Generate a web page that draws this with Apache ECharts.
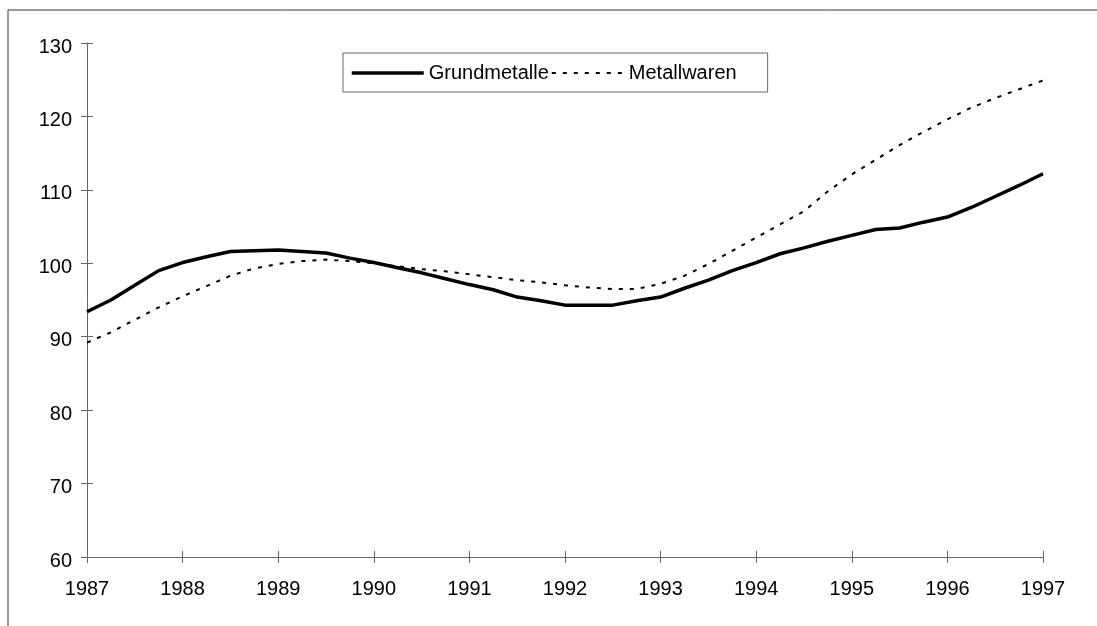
<!DOCTYPE html>
<html>
<head>
<meta charset="utf-8">
<script src="https://cdn.jsdelivr.net/npm/echarts@6/dist/echarts.min.js"></script>
<style>
html,body{margin:0;padding:0;background:#fff;}
#chart{width:1097px;height:626px;}
</style>
</head>
<body>
<div id="chart"></div>
<script>
const years = ['1987','1988','1989','1990','1991','1992','1993','1994','1995','1996','1997'];
const quarters = ['Q1','Q2','Q3','Q4'];
const yTicks = [60, 70, 80, 90, 100, 110, 120, 130];
const seriesNames = ['Grundmetalle', 'Metallwaren'];
const grundmetalle = [93.4, 95.0, 97.0, 99.0, 100.1, 100.9, 101.6, 101.7, 101.8, 101.6, 101.4, 100.7,
  100.1, 99.4, 98.7, 97.9, 97.1, 96.4, 95.4, 94.9, 94.3, 94.3, 94.3, 94.9, 95.4, 96.6, 97.7,
  99.0, 100.1, 101.3, 102.1, 103.0, 103.8, 104.6, 104.8, 105.6, 106.3, 107.6, 109.1, 110.6, 112.2];
const metallwaren = [89.2, 90.6, 92.3, 94.0, 95.5, 96.9, 98.3, 99.3, 99.9, 100.3, 100.5, 100.3, 100.0,
  99.6, 99.2, 98.9, 98.5, 98.1, 97.7, 97.4, 97.0, 96.7, 96.5, 96.5, 97.2, 98.3, 99.9,
  101.7, 103.5, 105.3, 107.1, 109.8, 112.1, 114.1, 116.1, 117.9, 119.6, 121.2, 122.5, 123.7, 124.9];

const categories = [];
years.forEach((y, i) => {
  if (i < years.length - 1) quarters.forEach(q => categories.push(y + ' ' + q));
  else categories.push(y + ' ' + quarters[0]);
});

const FONT = '"Liberation Sans", Arial, sans-serif';
const AXIS_COLOR = '#666';
const chart = echarts.init(document.getElementById('chart'), null, {renderer: 'canvas'});

const gridRect = {left: 87, right: 54, top: 43, bottom: 69, containLabel: false};
const xBase = {type: 'category', data: categories, boundaryGap: false, position: 'bottom'};
const yBase = {
  type: 'value',
  min: yTicks[0],
  max: yTicks[yTicks.length - 1],
  interval: yTicks[1] - yTicks[0],
  position: 'left',
  splitLine: {show: false}
};

chart.setOption({
  animation: false,
  backgroundColor: '#fff',
  grid: [Object.assign({}, gridRect), Object.assign({}, gridRect)],
  graphic: [{
    type: 'rect',
    shape: {x: 8, y: 10, width: 1200, height: 800},
    style: {fill: 'none', stroke: '#333', lineWidth: 1},
    silent: true,
    z: 0
  }],
  legend: {
    left: 343, top: 53,
    orient: 'horizontal',
    padding: [10, 31, 9, 7],
    backgroundColor: '#fff',
    borderColor: '#666',
    borderWidth: 1,
    itemWidth: 72,
    itemHeight: 20,
    itemGap: 2,
    itemStyle: {opacity: 0},
    lineStyle: {width: 'inherit'},
    textStyle: {fontFamily: FONT, fontSize: 20, color: '#000'},
    data: seriesNames
  },
  xAxis: [
    Object.assign({}, xBase, {
      gridIndex: 0,
      axisLine: {show: true, lineStyle: {color: AXIS_COLOR, width: 1}},
      axisTick: {show: true, interval: 3, length: 6, lineStyle: {color: AXIS_COLOR}},
      axisLabel: {
        interval: 3, margin: 22, color: '#000', fontFamily: FONT, fontSize: 20,
        formatter: v => v.split(' ')[0]
      }
    }),
    Object.assign({}, xBase, {
      gridIndex: 1,
      axisLine: {show: false},
      axisTick: {show: true, inside: true, interval: 3, length: 6, lineStyle: {color: AXIS_COLOR}},
      axisLabel: {show: false}
    })
  ],
  yAxis: [
    Object.assign({}, yBase, {
      gridIndex: 0,
      axisLine: {show: true, lineStyle: {color: AXIS_COLOR, width: 1}},
      axisTick: {show: true, length: 6, lineStyle: {color: AXIS_COLOR}},
      axisLabel: {margin: 15, color: '#000', fontFamily: FONT, fontSize: 20, verticalAlign: 'top', lineHeight: 8}
    }),
    Object.assign({}, yBase, {
      gridIndex: 1,
      axisLine: {show: false},
      axisTick: {show: true, inside: true, length: 6, lineStyle: {color: AXIS_COLOR}},
      axisLabel: {show: false}
    })
  ],
  series: [
    {
      name: seriesNames[0],
      type: 'line',
      data: grundmetalle,
      xAxisIndex: 0, yAxisIndex: 0,
      symbol: 'none',
      lineStyle: {color: '#000', width: 3.5},
      itemStyle: {color: '#000'}
    },
    {
      name: seriesNames[1],
      type: 'line',
      data: metallwaren,
      xAxisIndex: 0, yAxisIndex: 0,
      symbol: 'none',
      lineStyle: {color: '#000', width: 2, type: [4, 7]},
      itemStyle: {color: '#000'}
    }
  ]
});
</script>
</body>
</html>
